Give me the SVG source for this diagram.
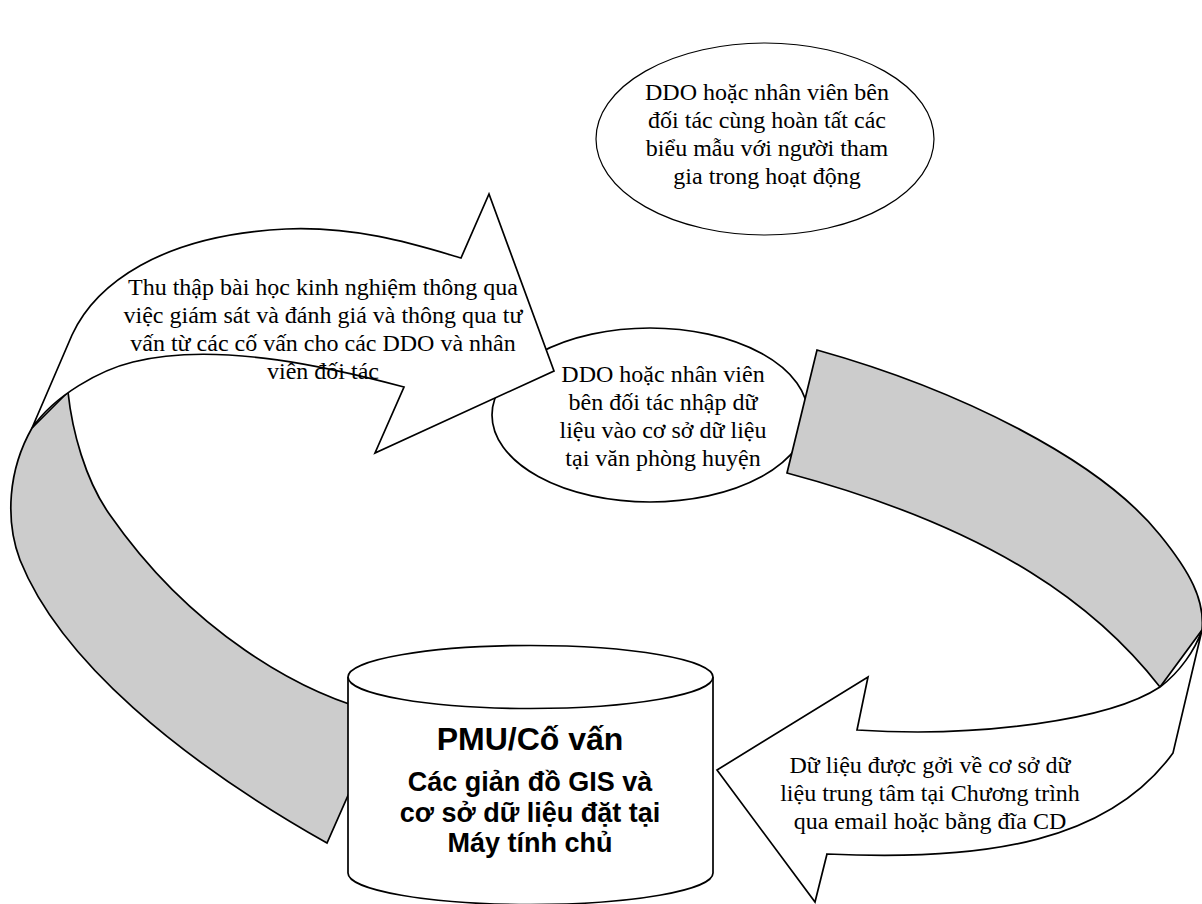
<svg xmlns="http://www.w3.org/2000/svg" width="1202" height="904" viewBox="0 0 1202 904">
<style>
.shape{fill:#fff;stroke:#000;stroke-width:1.7;stroke-linejoin:miter}
.band{fill:#ccc;stroke:#000;stroke-width:1.7}
.thin{fill:#fff;stroke:#000;stroke-width:1.2}
.t{font-family:"Liberation Serif","Times New Roman",serif;font-size:24px;fill:#000;text-anchor:middle}
.b1{font-family:"Liberation Sans",Arial,sans-serif;font-weight:bold;font-size:32px;fill:#000;text-anchor:middle}
.b2{font-family:"Liberation Sans",Arial,sans-serif;font-weight:bold;font-size:27px;fill:#000;text-anchor:middle}
</style>
<rect width="1202" height="904" fill="#fff"/>
<g id="node-forms">
<ellipse class="thin" cx="765" cy="139" rx="169" ry="96"/>
<text class="t" x="767" y="100">DDO hoặc nhân viên bên</text>
<text class="t" x="767" y="128">đối tác cùng hoàn tất các</text>
<text class="t" x="767" y="156">biểu mẫu với người tham</text>
<text class="t" x="767" y="184">gia trong hoạt động</text>
</g>
<g id="node-entry">
<ellipse class="shape" cx="650" cy="415" rx="158" ry="87"/>
</g>
<g id="connectors">
<path id="band-left" class="band" d="M32,428 C8,470 5,520 20,560 C60,660 180,760 327,843 L384,714 C300,695 190,630 110,515 C85,480 72,430 68,392 Z"/>
<path id="arrow-lessons" class="shape" d="M32,428 L72,335 C95,285 160,235 286,229 C360,226 420,246 461,258 L489,194 L554,371 L375,453 L404,387 C340,370 220,340 133,362 C100,370 55,395 32,428 Z"/>
<path id="band-right" class="band" d="M817,350 C960,390 1100,460 1160,535 C1190,572 1205,600 1202,630 L1160,687 C1100,610 1000,530 787,473 Z"/>
<path id="arrow-send" class="shape" d="M1202,630 L1173,753 C1110,840 990,862 827,854 L815,902 L717,770 L868,677 L857,730 C980,738 1110,720 1160,687 C1180,672 1195,650 1202,630 Z"/>
</g>
<g id="node-entry-text">
<text class="t" x="663" y="382">DDO hoặc nhân viên</text>
<text class="t" x="663" y="410">bên đối tác nhập dữ</text>
<text class="t" x="663" y="438">liệu vào cơ sở dữ liệu</text>
<text class="t" x="663" y="466">tại văn phòng huyện</text>
</g>
<g id="label-lessons">
<text class="t" x="323" y="295">Thu thập bài học kinh nghiệm thông qua</text>
<text class="t" x="323" y="323">việc giám sát và đánh giá và thông qua tư</text>
<text class="t" x="323" y="351">vấn từ các cố vấn cho các DDO và nhân</text>
<text class="t" x="323" y="379">viên đối tác</text>
</g>
<g id="label-send">
<text class="t" x="930" y="773">Dữ liệu được gởi về cơ sở dữ</text>
<text class="t" x="930" y="801">liệu trung tâm tại Chương trình</text>
<text class="t" x="930" y="829">qua email hoặc bằng đĩa CD</text>
</g>
<g id="node-pmu">
<path class="shape" d="M348,677 L348,873 A182.5,31.5 0 0 0 713,873 L713,677"/>
<ellipse class="shape" cx="530.5" cy="677" rx="182.5" ry="31.5"/>
<text class="b1" x="530" y="750">PMU/Cố vấn</text>
<text class="b2" x="530" y="791">Các giản đồ GIS và</text>
<text class="b2" x="530" y="822">cơ sở dữ liệu đặt tại</text>
<text class="b2" x="530" y="852">Máy tính chủ</text>
</g>
</svg>
